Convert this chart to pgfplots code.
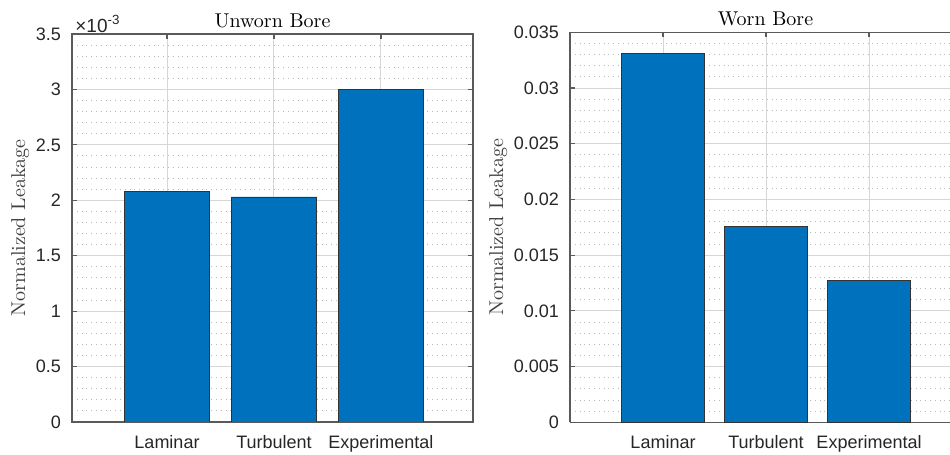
\documentclass[border=0pt]{standalone}
\usepackage{fontspec}
\newfontfamily\arial{Liberation Sans}
\usepackage{pgfplots}
\pgfplotsset{compat=1.18}
\definecolor{mblue}{HTML}{0072BD}
\definecolor{axgray}{HTML}{5A5A5A}
\pgfplotsset{
 mystyle/.style={
  scale only axis,
  anchor=south west,
  ybar, bar width=0.8,
  ymin=0,
  xtick={1,2,3},
  xticklabels={Laminar,Turbulent,Experimental},
  xmajorgrids, ymajorgrids, yminorgrids,
  minor y tick num=4,
  major grid style={black!16, line width=0.5pt},
  minor grid style={black!28, dotted, line width=0.5pt},
  axis line style={axgray, line width=0.6pt},
  tick style={axgray, line width=0.6pt},
  major tick length=2.5pt, minor tick length=0pt,
  tick label style={font=\arial\fontsize{9}{10}\selectfont, text=black!85},
  xticklabel style={yshift=-3pt},
  yticklabel style={xshift=-2pt},
  every axis title shift=-0.5pt,
  title style={font=\fontsize{10}{12}\selectfont},
  ylabel style={font=\fontsize{10}{12}\selectfont, text=black!75},
  ylabel shift=-3.5pt,
  scaled y ticks=false,
  ylabel={Normalized Leakage},
 }
}
\begin{document}
\begin{tikzpicture}
\path[use as bounding box] (0,0) rectangle (475pt,227.5pt);
\begin{axis}[mystyle, name=L,
  at={(36pt,16.5pt)}, width=200.5pt, height=194pt,
  xmin=0.112, xmax=3.86, ymax=0.0035,
  tick align=inside,
  ytick={0,0.0005,0.001,0.0015,0.002,0.0025,0.003,0.0035},
  yticklabels={0,0.5,1,1.5,2,2.5,3,3.5},
  title={Unworn Bore}]
\addplot[fill=mblue, draw=black!80, line width=0.4pt] coordinates {(1,0.00208) (2,0.00203) (3,0.0030)};
\end{axis}
\node[anchor=south west, font=\arial\fontsize{9.5}{10}\selectfont, text=black!85, inner sep=0.5pt, xshift=1pt] at (L.north west) {×10\textsuperscript{-3}};
\begin{axis}[mystyle,
  at={(285pt,16.35pt)}, width=195.5pt, height=195pt,
  xmin=0.097, xmax=3.893, ymax=0.035,
  axis x line*=box, axis y line*=left,
  tick align=inside,
  ytick={0,0.005,0.01,0.015,0.02,0.025,0.03,0.035},
  yticklabels={0,0.005,0.01,0.015,0.02,0.025,0.03,0.035},
  title={Worn Bore}]
\addplot[fill=mblue, draw=black!80, line width=0.4pt] coordinates {(1,0.0331) (2,0.0176) (3,0.0127)};
\end{axis}
\end{tikzpicture}
\end{document}
